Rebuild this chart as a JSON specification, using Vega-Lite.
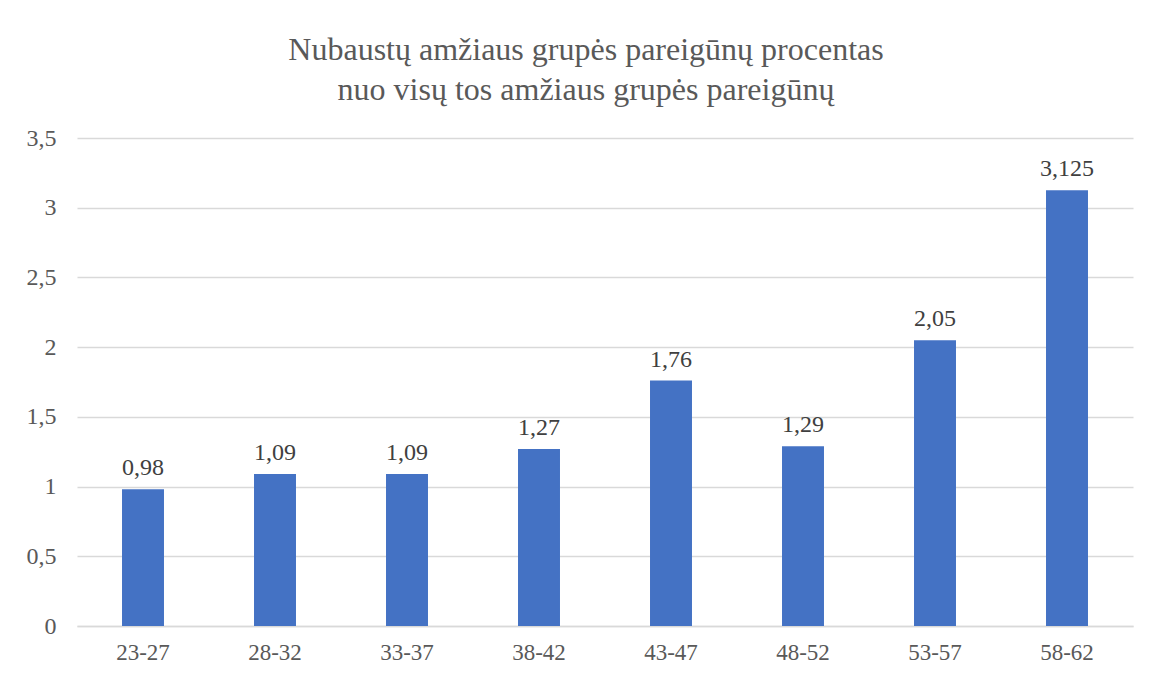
{
  "$schema": "https://vega.github.io/schema/vega-lite/v6.json",
  "width": 1056,
  "height": 488,
  "autosize": {"type": "none"},
  "padding": {"left": 77, "top": 138, "right": 19, "bottom": 49},
  "background": "white",
  "config": {
    "locale": {"number": {"decimal": ",", "thousands": " ", "grouping": [3], "currency": ["", " €"]}},
    "font": "Liberation Serif",
    "view": {"stroke": null}
  },
  "title": {
    "text": ["Nubaustų amžiaus grupės pareigūnų procentas", "nuo visų tos amžiaus grupės pareigūnų"],
    "font": "Liberation Serif",
    "fontSize": 32,
    "fontWeight": "normal",
    "color": "#595959",
    "lineHeight": 40,
    "anchor": "middle",
    "dx": -19,
    "offset": 19
  },
  "data": {
    "values": [
      {"group": "23-27", "value": 0.98},
      {"group": "28-32", "value": 1.09},
      {"group": "33-37", "value": 1.09},
      {"group": "38-42", "value": 1.27},
      {"group": "43-47", "value": 1.76},
      {"group": "48-52", "value": 1.29},
      {"group": "53-57", "value": 2.05},
      {"group": "58-62", "value": 3.125}
    ]
  },
  "encoding": {
    "x": {
      "field": "group",
      "type": "nominal",
      "sort": null,
      "scale": {"paddingInner": 0.682, "paddingOuter": 0.341},
      "axis": {
        "title": null,
        "labelAngle": 0,
        "labelFont": "Liberation Serif",
        "labelFontSize": 23,
        "labelColor": "#595959",
        "labelPadding": 15,
        "ticks": false,
        "domainColor": "#D9D9D9",
        "domainWidth": 1.5
      }
    },
    "y": {
      "field": "value",
      "type": "quantitative",
      "scale": {"domain": [0, 3.5]},
      "axis": {
        "title": null,
        "values": [0, 0.5, 1, 1.5, 2, 2.5, 3, 3.5],
        "format": ".1~f",
        "labelFont": "Liberation Serif",
        "labelFontSize": 24,
        "labelColor": "#595959",
        "labelPadding": 21,
        "ticks": false,
        "domain": false,
        "gridColor": "#D9D9D9",
        "gridWidth": 1.5
      }
    }
  },
  "layer": [
    {"mark": {"type": "bar", "color": "#4472C4"}},
    {
      "mark": {"type": "text", "baseline": "bottom", "dy": -9, "fontSize": 24, "color": "#404040", "font": "Liberation Serif"},
      "encoding": {"text": {"field": "value", "type": "quantitative", "format": "~g"}}
    }
  ]
}
